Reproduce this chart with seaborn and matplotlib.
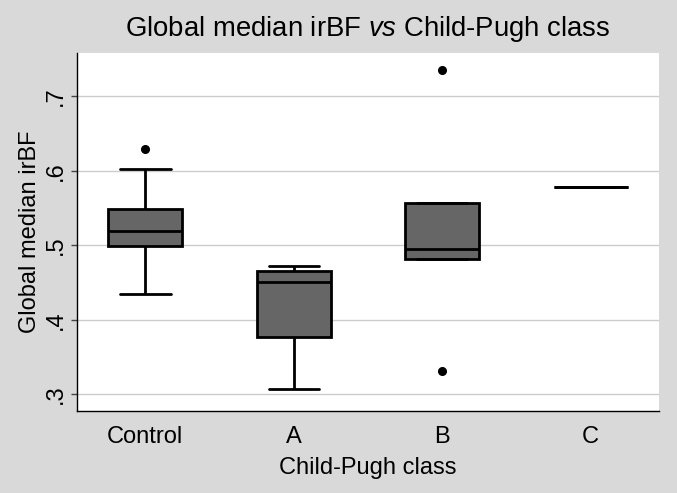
import matplotlib
matplotlib.use("Agg")
import matplotlib.pyplot as plt
import seaborn as sns
import pandas as pd

# values (Global median irBF per Child-Pugh class)
categories = ["Control", "A", "B", "C"]
control_vals = [0.435, 0.470, 0.499, 0.510, 0.520, 0.535, 0.549, 0.603, 0.630]
class_a_vals = [0.307, 0.3765, 0.4516, 0.4653, 0.472]
class_b_vals = [0.3316, 0.4813, 0.4956, 0.5565, 0.7352]
class_c_vals = [0.579]

y_ticks = [0.3, 0.4, 0.5, 0.6, 0.7]
y_tick_labels = [".3", ".4", ".5", ".6", ".7"]

groups = [control_vals, class_a_vals, class_b_vals, class_c_vals]
df = pd.DataFrame({
    "cls": [c for c, vals in zip(categories, groups) for _ in vals],
    "irbf": [v for vals in groups for v in vals],
})

sns.set_style("white")
plt.rcParams["font.family"] = ["Liberation Sans", "DejaVu Sans"]
plt.rcParams["mathtext.fontset"] = "custom"
plt.rcParams["mathtext.rm"] = "Liberation Sans"
plt.rcParams["mathtext.it"] = "Liberation Sans:italic"
plt.rcParams["text.color"] = "black"
plt.rcParams["axes.labelcolor"] = "black"
plt.rcParams["xtick.color"] = "black"
plt.rcParams["ytick.color"] = "black"

bg = "#d9d9d9"
fig = plt.figure(figsize=(6.77, 4.93), dpi=100, facecolor=bg)
ax = fig.add_axes([77 / 677, 1 - 411 / 493, (659 - 77) / 677, (411 - 53) / 493])
ax.set_facecolor("white")

sns.boxplot(data=df, x="cls", y="irbf", order=categories, ax=ax,
            color="#666666", linecolor="black", linewidth=2.0, width=0.5,
            saturation=1, capwidths=0.34,
            flierprops=dict(marker="o", markerfacecolor="black",
                            markeredgecolor="black", markersize=5.5))

ax.set_xlim(-0.46, 3.46)
ax.set_ylim(0.2778, 0.7583)
ax.set_yticks(y_ticks, y_tick_labels, rotation=90, va="center")
ax.yaxis.grid(True, color="#cccccc", linewidth=1.0)
ax.set_axisbelow(True)

ax.tick_params(axis="y", length=4, width=1, color="#444444", labelsize=17, pad=3, left=True)
ax.tick_params(axis="x", length=0, labelsize=17, pad=11)

for side in ["top", "right"]:
    ax.spines[side].set_visible(False)
for side in ["left", "bottom"]:
    ax.spines[side].set_color("black")
    ax.spines[side].set_linewidth(1.0)

ax.set_xlabel("Child-Pugh class", fontsize=17, labelpad=6)
ax.set_ylabel("Global median irBF", fontsize=17, labelpad=3)
ax.set_title(r"Global median irBF $\it{vs}$ Child-Pugh class", fontsize=19.8, pad=12)

fig.savefig("out.png", dpi=100, facecolor=bg)
